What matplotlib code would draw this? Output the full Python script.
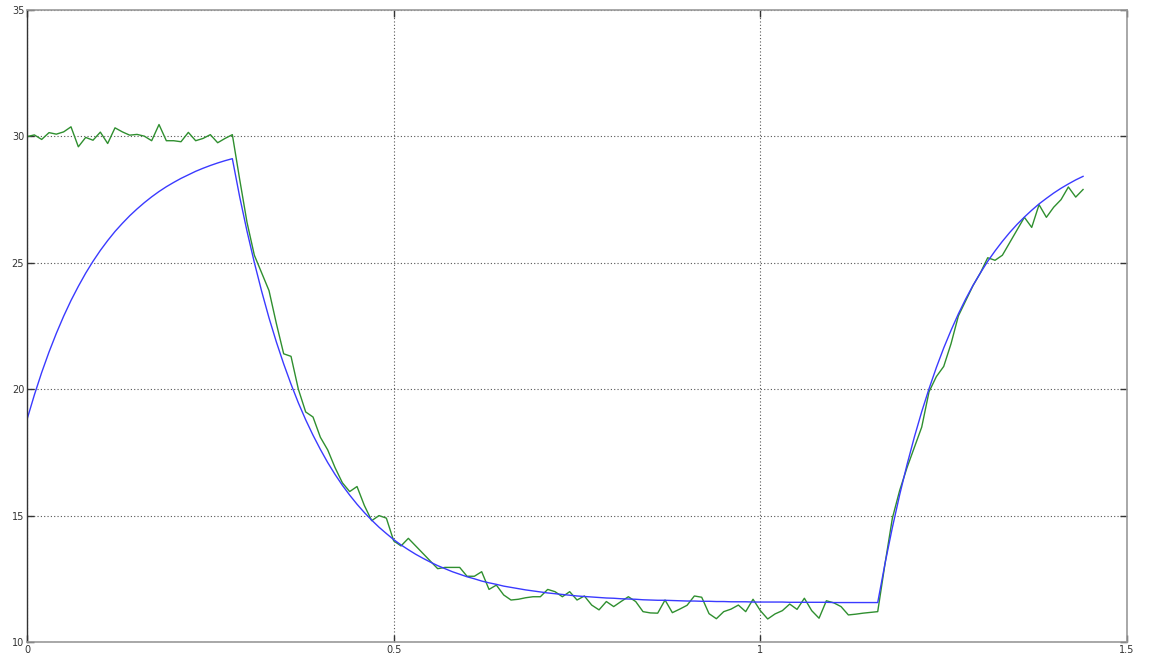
import numpy as np
import matplotlib
matplotlib.use("Agg")
import matplotlib.pyplot as plt

# reference (blue) and measured (green) signal, sampled every 0.01
blue = [
    18.80, 19.77, 20.66, 21.47, 22.21, 22.89, 23.51, 24.07, 24.59, 25.06,
    25.49, 25.88, 26.24, 26.56, 26.86, 27.13, 27.38, 27.61, 27.82, 28.01,
    28.18, 28.34, 28.48, 28.62, 28.74, 28.85, 28.95, 29.04, 29.12,
    27.61, 26.25, 25.01, 23.87, 22.82, 21.87, 21.00, 20.20, 19.46, 18.79,
    18.18, 17.62, 17.10, 16.63, 16.20, 15.81, 15.45, 15.12, 14.82, 14.54,
    14.29, 14.05, 13.84, 13.65, 13.47, 13.31, 13.16, 13.02, 12.90, 12.78,
    12.68, 12.58, 12.50, 12.41, 12.34, 12.28, 12.21, 12.16, 12.11, 12.06,
    12.02, 11.98, 11.94, 11.91, 11.88, 11.85, 11.82, 11.80, 11.78, 11.76,
    11.74, 11.73, 11.71, 11.70, 11.69, 11.67, 11.66, 11.65, 11.65, 11.64,
    11.63, 11.62, 11.62, 11.61, 11.61, 11.60, 11.60, 11.59, 11.59, 11.59,
    11.58, 11.58, 11.58, 11.58, 11.58, 11.57, 11.57, 11.57, 11.57, 11.57,
    11.57, 11.56, 11.56, 11.56, 11.56, 11.56, 11.56, 11.56,
    13.11, 14.53, 15.83, 17.02, 18.11, 19.11, 20.02, 20.86, 21.63, 22.33,
    22.98, 23.57, 24.11, 24.60, 25.06, 25.47, 25.85, 26.20, 26.52, 26.81,
    27.08, 27.33, 27.55, 27.76, 27.95, 28.12, 28.28, 28.42,
]

green = [
    29.99, 30.06, 29.88, 30.15, 30.09, 30.18, 30.38, 29.59, 29.96, 29.85,
    30.17, 29.72, 30.34, 30.18, 30.05, 30.08, 30.01, 29.83, 30.47, 29.83,
    29.83, 29.79, 30.16, 29.83, 29.92, 30.07, 29.75, 29.92, 30.07,
    28.30, 26.60, 25.30, 24.60, 23.90, 22.60, 21.40, 21.30, 20.00, 19.10,
    18.90, 18.10, 17.60, 16.90, 16.30, 15.95, 16.15, 15.40, 14.80, 15.00,
    14.90, 14.00, 13.80, 14.10, 13.80, 13.50, 13.20, 12.90, 12.95, 12.95,
    12.95, 12.60, 12.60, 12.78, 12.08, 12.25, 11.86, 11.66, 11.69, 11.75,
    11.79, 11.79, 12.08, 11.99, 11.79, 11.99, 11.66, 11.82, 11.46, 11.27,
    11.60, 11.40, 11.60, 11.79, 11.60, 11.20, 11.15, 11.14, 11.66, 11.16,
    11.30, 11.45, 11.82, 11.77, 11.12, 10.92, 11.20, 11.30, 11.46, 11.20,
    11.69, 11.24, 10.91, 11.11, 11.24, 11.50, 11.29, 11.73, 11.24, 10.94,
    11.63, 11.55, 11.40, 11.07, 11.10, 11.14, 11.17, 11.20,
    13.10, 14.90, 16.00, 16.90, 17.70, 18.50, 19.90, 20.50, 20.90, 21.80,
    22.90, 23.50, 24.10, 24.60, 25.20, 25.10, 25.30, 25.80, 26.30, 26.80,
    26.40, 27.30, 26.80, 27.20, 27.50, 28.00, 27.60, 27.90,
]

t_blue = np.arange(len(blue)) * 0.01
t_green = np.arange(len(green)) * 0.01

x_ticks = [0, 0.5, 1, 1.5]
x_labels = ["0", "0.5", "1", "1.5"]
y_ticks = [10, 15, 20, 25, 30, 35]

fig = plt.figure(figsize=(11.49, 6.60), dpi=100)
ax = fig.add_axes([0.0235, 0.0273, 0.9574, 0.9575])

ax.plot(t_green, green, color="#2f8f2f", linewidth=1.0)
ax.plot(t_blue, blue, color="#3a3aff", linewidth=1.0)

ax.set_xlim(0, 1.5)
ax.set_ylim(10, 35)
ax.set_xticks(x_ticks)
ax.set_xticklabels(x_labels)
ax.set_yticks(y_ticks)

ax.grid(True, linestyle=(0, (1, 2)), color="#555555", linewidth=0.8)
ax.tick_params(direction="in", top=True, right=True, length=5, width=1,
               labelsize=7, colors="#333333", pad=2)

for side in ["top", "bottom", "right"]:
    ax.spines[side].set_color("#999999")
    ax.spines[side].set_linewidth(1.2)
ax.spines["left"].set_color("#333333")
ax.spines["left"].set_linewidth(1.0)

fig.savefig("out.png", dpi=100)
